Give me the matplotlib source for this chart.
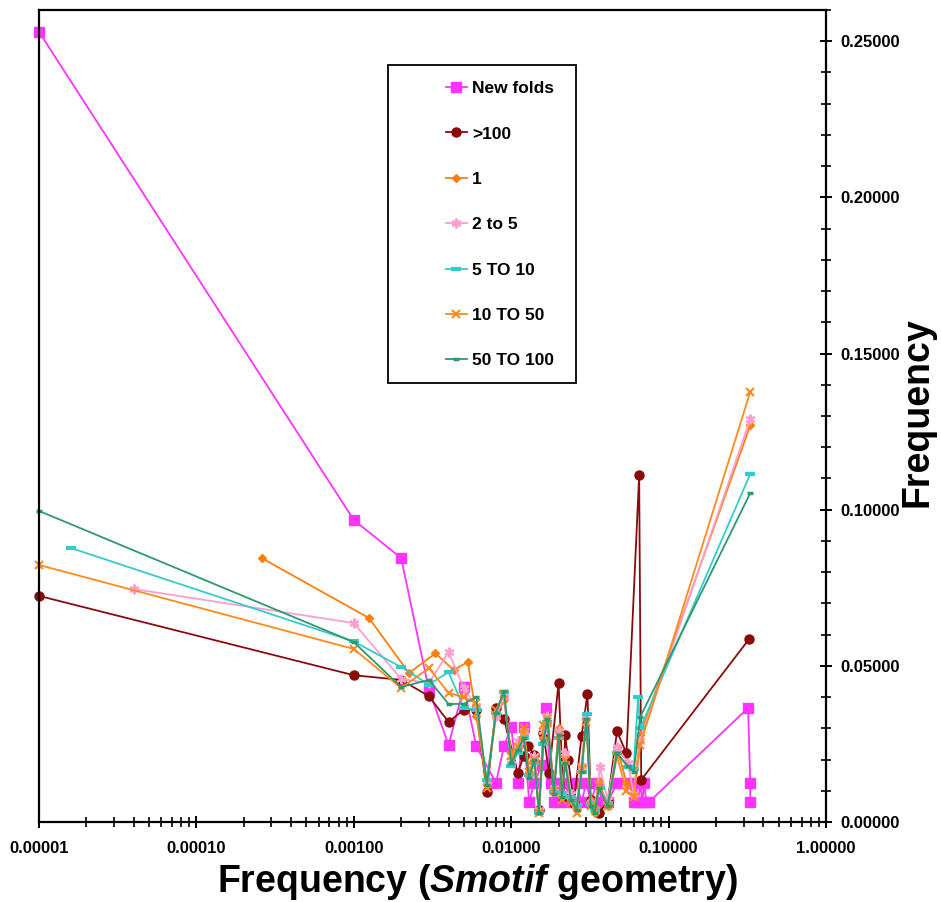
import matplotlib.pyplot as plt
from matplotlib.ticker import FixedLocator, LogLocator, MultipleLocator, FuncFormatter, NullFormatter
from matplotlib.patches import Rectangle

plt.rcParams['font.family'] = ['Liberation Sans', 'DejaVu Sans']
plt.rcParams['font.weight'] = 'bold'
plt.rcParams['mathtext.fontset'] = 'custom'
plt.rcParams['mathtext.it'] = 'Liberation Sans:italic'
plt.rcParams['mathtext.rm'] = 'Liberation Sans:bold'

# ---- data ----
x_new = [1e-5, 0.001, 0.002, 0.003, 0.004, 0.005, 0.006, 0.008, 0.009, 0.010, 0.011, 0.012,
         0.013, 0.014, 0.0157, 0.0166, 0.0178, 0.0188, 0.020, 0.021, 0.022, 0.024, 0.026,
         0.028, 0.030, 0.032, 0.035, 0.038, 0.041, 0.047, 0.058, 0.060, 0.062, 0.064, 0.066,
         0.068, 0.070, 0.072, 0.075, 0.32, 0.33, 0.33]
y_new = [0.253, 0.0967, 0.0845, 0.0423, 0.0247, 0.0432, 0.0243, 0.0125, 0.0243, 0.0304, 0.0125,
         0.0304, 0.0064, 0.0125, 0.0183, 0.0365, 0.0125, 0.0064, 0.0125, 0.0064, 0.0125, 0.0064,
         0.0125, 0.0064, 0.0125, 0.0064, 0.0125, 0.0064, 0.0064, 0.0125, 0.0125, 0.0064, 0.0125,
         0.0064, 0.0125, 0.0064, 0.0125, 0.0064, 0.0064, 0.0365, 0.0125, 0.0064]

x_gt100 = [1e-5, 0.001, 0.002, 0.003, 0.004, 0.005, 0.006, 0.007, 0.008, 0.009, 0.011, 0.012,
           0.0128, 0.014, 0.015, 0.016, 0.0174, 0.020, 0.0214, 0.022, 0.023, 0.025, 0.028,
           0.0305, 0.032, 0.036, 0.041, 0.047, 0.054, 0.065, 0.067, 0.325]
y_gt100 = [0.0724, 0.047, 0.0455, 0.0403, 0.032, 0.036, 0.036, 0.0096, 0.0365, 0.033, 0.0157,
           0.021, 0.0243, 0.0215, 0.0038, 0.0285, 0.0157, 0.0445, 0.008, 0.028, 0.020, 0.006,
           0.0275, 0.041, 0.007, 0.003, 0.0064, 0.029, 0.022, 0.111, 0.0135, 0.0586]

x_1 = [0.00026, 0.00125, 0.00224, 0.0033, 0.0043, 0.0053, 0.006, 0.007, 0.008, 0.009, 0.010,
       0.011, 0.012, 0.013, 0.014, 0.015, 0.016, 0.017, 0.0187, 0.020, 0.021, 0.022, 0.024,
       0.026, 0.028, 0.030, 0.032, 0.034, 0.036, 0.041, 0.047, 0.054, 0.060, 0.066, 0.33]
y_1 = [0.0845, 0.0653, 0.0477, 0.054, 0.0487, 0.0512, 0.034, 0.012, 0.034, 0.039, 0.022,
       0.024, 0.028, 0.016, 0.020, 0.004, 0.027, 0.031, 0.010, 0.030, 0.008, 0.021, 0.007,
       0.004, 0.018, 0.033, 0.007, 0.003, 0.013, 0.005, 0.024, 0.0125, 0.009, 0.028, 0.127]

x_2to5 = [4e-5, 0.001, 0.002, 0.003, 0.004, 0.005, 0.006, 0.007, 0.008, 0.009, 0.010, 0.011,
          0.012, 0.013, 0.014, 0.015, 0.016, 0.017, 0.0187, 0.020, 0.021, 0.022, 0.024, 0.026,
          0.028, 0.030, 0.032, 0.034, 0.0365, 0.041, 0.047, 0.055, 0.060, 0.066, 0.33]
y_2to5 = [0.0746, 0.0637, 0.0458, 0.0445, 0.0544, 0.0429, 0.037, 0.013, 0.034, 0.040, 0.020,
          0.026, 0.029, 0.015, 0.021, 0.004, 0.029, 0.034, 0.011, 0.029, 0.009, 0.022, 0.009,
          0.005, 0.018, 0.034, 0.006, 0.004, 0.0175, 0.007, 0.024, 0.019, 0.009, 0.026, 0.129]

x_5to10 = [1.6e-5, 0.001, 0.002, 0.003, 0.004, 0.005, 0.006, 0.007, 0.008, 0.009, 0.010,
           0.011, 0.012, 0.013, 0.014, 0.015, 0.016, 0.017, 0.0187, 0.020, 0.021, 0.022,
           0.024, 0.026, 0.028, 0.0303, 0.032, 0.034, 0.0365, 0.041, 0.047, 0.055, 0.060,
           0.064, 0.066, 0.33]
y_5to10 = [0.0877, 0.0578, 0.0496, 0.0440, 0.0480, 0.0365, 0.036, 0.0134, 0.035, 0.0416,
           0.018, 0.022, 0.027, 0.015, 0.019, 0.003, 0.025, 0.032, 0.0096, 0.027, 0.0093,
           0.019, 0.008, 0.005, 0.016, 0.0346, 0.006, 0.004, 0.011, 0.006, 0.022, 0.0176,
           0.017, 0.040, 0.030, 0.1114]

x_10to50 = [1e-5, 0.001, 0.002, 0.003, 0.004, 0.005, 0.006, 0.007, 0.008, 0.009, 0.010,
            0.011, 0.012, 0.013, 0.014, 0.015, 0.016, 0.017, 0.0187, 0.020, 0.021, 0.022,
            0.024, 0.026, 0.028, 0.030, 0.032, 0.034, 0.036, 0.041, 0.047, 0.054, 0.060,
            0.066, 0.33]
y_10to50 = [0.0823, 0.0554, 0.0429, 0.0493, 0.0413, 0.040, 0.038, 0.011, 0.036, 0.041, 0.021,
            0.024, 0.030, 0.016, 0.020, 0.003, 0.031, 0.033, 0.010, 0.028, 0.007, 0.020,
            0.006, 0.003, 0.017, 0.032, 0.005, 0.004, 0.012, 0.005, 0.021, 0.010, 0.008,
            0.0247, 0.1377]

x_50to100 = [1e-5, 0.001, 0.002, 0.003, 0.004, 0.005, 0.006, 0.007, 0.008, 0.009, 0.010,
             0.011, 0.012, 0.013, 0.014, 0.015, 0.016, 0.017, 0.0187, 0.020, 0.021, 0.022,
             0.024, 0.026, 0.028, 0.030, 0.032, 0.034, 0.036, 0.041, 0.047, 0.055, 0.060,
             0.066, 0.33]
y_50to100 = [0.0996, 0.0576, 0.0432, 0.0455, 0.0378, 0.0378, 0.040, 0.012, 0.035, 0.042,
             0.019, 0.023, 0.027, 0.014, 0.020, 0.003, 0.026, 0.033, 0.009, 0.028, 0.008,
             0.019, 0.007, 0.004, 0.016, 0.033, 0.005, 0.003, 0.011, 0.005, 0.022, 0.018,
             0.016, 0.0336, 0.1053]

labels = ["New folds", ">100", "1", "2 to 5", "5 TO 10", "10 TO 50", "50 TO 100"]
y_ticks = [0.0, 0.05, 0.10, 0.15, 0.20, 0.25]
x_ticks = [1e-5, 1e-4, 1e-3, 1e-2, 1e-1, 1.0]

series = [
    (x_new, y_new, dict(color='#FF33FF', marker='s', ms=7.5)),
    (x_gt100, y_gt100, dict(color='#8B0A0A', marker='o', ms=6.5)),
    (x_1, y_1, dict(color='#FF7F0E', marker='D', ms=4.5)),
    (x_2to5, y_2to5, dict(color='#FF9ECF', marker=(6, 2, 0), ms=7, mew=1.5)),
    (x_5to10, y_5to10, dict(color='#33CCCC', marker='_', ms=7, mew=3)),
    (x_10to50, y_10to50, dict(color='#FF8A1E', marker='x', ms=5.5, mew=1.5)),
    (x_50to100, y_50to100, dict(color='#2E9970', marker='_', ms=4, mew=2.5)),
]

fig = plt.figure(figsize=(9.41, 9.02), dpi=100)
ax = fig.add_axes([39 / 941, 1 - 822 / 902, (826 - 39) / 941, (822 - 10) / 902])

handles = []
for (xs, ys, st), lab in zip(series, labels):
    ln, = ax.plot(xs, ys, lw=1.3, clip_on=False, label=lab, **st)
    handles.append(ln)

ax.set_xscale('log')
ax.set_xlim(1e-5, 1)
ax.set_ylim(0, 0.26)

ax.yaxis.tick_right()
ax.yaxis.set_major_locator(FixedLocator(y_ticks))
ax.yaxis.set_minor_locator(MultipleLocator(0.01))
ax.yaxis.set_major_formatter(FuncFormatter(lambda v, p: f"{v:.5f}"))

ax.xaxis.set_major_locator(FixedLocator(x_ticks))
ax.xaxis.set_minor_locator(LogLocator(base=10, subs=range(2, 10), numticks=20))
ax.xaxis.set_minor_formatter(NullFormatter())
ax.xaxis.set_major_formatter(FuncFormatter(lambda v, p: f"{v:.5f}"))

for s in ax.spines.values():
    s.set_linewidth(1.6)
ax.tick_params(which='major', direction='inout', length=9, width=1.4, labelsize=12)
ax.tick_params(which='minor', direction='inout', length=7, width=1.2)
ax.tick_params(axis='x', pad=9)
ax.tick_params(axis='y', pad=6)

fig.text(478 / 941, 1 - 882 / 902, r"Frequency ($\mathit{Smotif}$ geometry)",
         ha='center', va='center', fontsize=27, fontweight='bold')
fig.text(918 / 941, 1 - 412 / 902, "Frequency", rotation=90,
         ha='center', va='center', fontsize=27, fontweight='bold')

# legend with a wide box like the original
fig.patches.append(Rectangle((388 / 941, 1 - 383 / 902), (576 - 388) / 941, (383 - 65) / 902,
                             transform=fig.transFigure, fill=False, ec='black', lw=1.3))
fig.legend(handles=handles, loc='upper left', bbox_to_anchor=(446 / 941, 1 - 81 / 902),
           frameon=False, fontsize=12.5, handlelength=1.2, handletextpad=0.3,
           labelspacing=1.74, borderpad=0, borderaxespad=0)

fig.savefig('out.png', dpi=100)
